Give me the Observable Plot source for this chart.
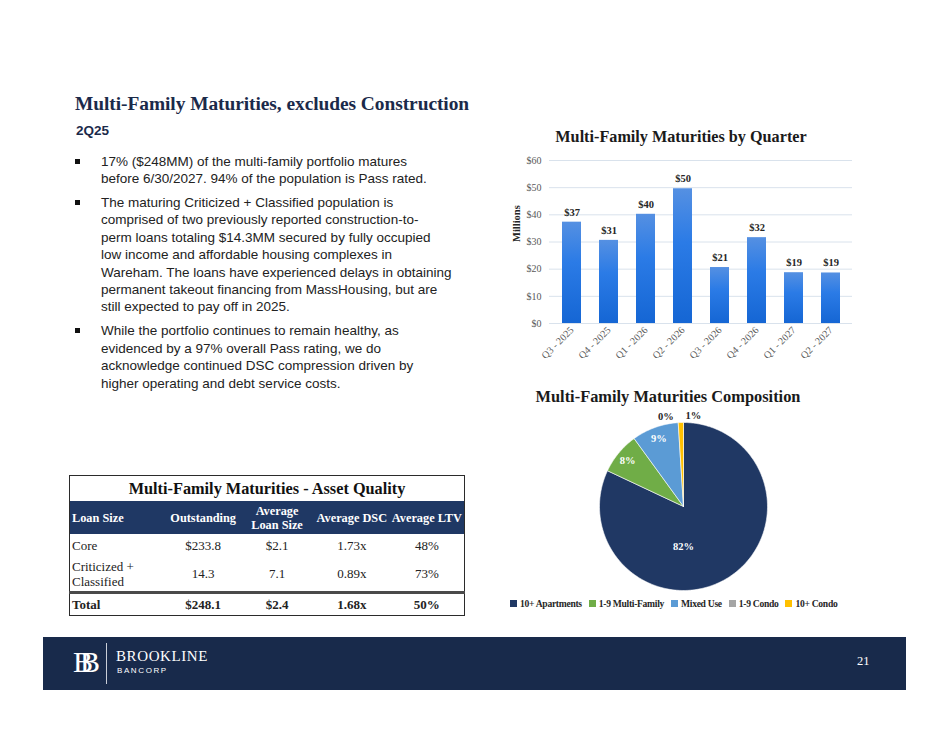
<!DOCTYPE html>
<html><head><meta charset="utf-8">
<script src="https://cdn.jsdelivr.net/npm/d3@7"></script>
<script src="https://cdn.jsdelivr.net/npm/@observablehq/plot@0.6"></script>
<style>
html,body{margin:0;padding:0;background:#fff;}
#page{position:relative;width:950px;height:734px;overflow:hidden;font-family:"Liberation Sans",Arial,sans-serif;}
.abs{position:absolute;}
.serif{font-family:"Liberation Serif","Times New Roman",serif;}
#title{left:75px;top:94px;font-size:19.4px;line-height:1;font-weight:bold;color:#1b2a4a;white-space:nowrap;letter-spacing:-0.05px;}
#sub{left:76px;top:124px;font-size:13.5px;line-height:1;font-weight:bold;color:#1b2a4a;}
#bullets{left:75px;top:152.5px;width:420px;font-size:13.5px;line-height:17.4px;color:#222;}
#bullets .b{position:relative;padding-left:26px;margin-bottom:6.6px;white-space:nowrap;}
#bullets .b::before{content:"";position:absolute;left:0px;top:6px;width:5px;height:5px;background:#111;}
.ctitle{font-weight:bold;color:#1a1a1a;line-height:1;white-space:nowrap;transform:translateX(-50%);}
#barTitle{left:681px;top:129px;font-size:16.2px;}
#pieTitle{left:668px;top:389px;font-size:16.4px;}
#barChart{left:490px;top:145px;}
#pieChart{left:583px;top:406px;}
#legend{left:510px;top:598px;display:flex;gap:7px;font-size:9.6px;letter-spacing:-0.3px;font-weight:bold;color:#262626;white-space:nowrap;line-height:12px;}
#legend .sw{display:inline-block;width:7px;height:7px;margin-right:3px;vertical-align:0px;}
#tbl{left:69px;top:475px;width:396px;border:1.5px solid #2b2b2b;border-collapse:collapse;font-size:13px;color:#222;box-sizing:border-box;}
#tbl td,#tbl th{padding:0;text-align:center;}
#tbl .ttl td{height:25px;font-size:16.3px;font-weight:bold;color:#111;}
#tbl .hdr th{height:33px;background:#1f3864;color:#fff;font-size:12.3px;font-weight:bold;line-height:14px;}
#tbl .first{text-align:left;padding-left:2px;}
#tbl .tot td{border-top:3px solid #4a4a4a;height:21px;font-weight:bold;}
#footer{left:43px;top:637px;width:863px;height:53px;background:#182a4b;}
</style></head>
<body>
<svg width="0" height="0" style="position:absolute">
  <defs>
    <linearGradient id="barGrad" x1="0" y1="0" x2="0" y2="1">
      <stop offset="0" stop-color="#5590e2"/>
      <stop offset="0.4" stop-color="#2b7be6"/>
      <stop offset="1" stop-color="#1566d4"/>
    </linearGradient>
  </defs>
</svg>
<div id="page">
  <div id="title" class="abs serif">Multi-Family Maturities, excludes Construction</div>
  <div id="sub" class="abs">2Q25</div>
  <div id="bullets" class="abs">
    <div class="b">17% ($248MM) of the multi-family portfolio matures<br>before 6/30/2027. 94% of the population is Pass rated.</div>
    <div class="b">The maturing Criticized + Classified population is<br>comprised of two previously reported construction-to-<br>perm loans totaling $14.3MM secured by fully occupied<br>low income and affordable housing complexes in<br>Wareham. The loans have experienced delays in obtaining<br>permanent takeout financing from MassHousing, but are<br>still expected to pay off in 2025.</div>
    <div class="b">While the portfolio continues to remain healthy, as<br>evidenced by a 97% overall Pass rating, we do<br>acknowledge continued DSC compression driven by<br>higher operating and debt service costs.</div>
  </div>

  <div id="barTitle" class="abs serif ctitle">Multi-Family Maturities by Quarter</div>
  <div id="barChart" class="abs"></div>
  <div id="pieTitle" class="abs serif ctitle">Multi-Family Maturities Composition</div>
  <div id="pieChart" class="abs"></div>
  <div id="legend" class="abs serif"></div>

  <table id="tbl" class="abs serif"></table>

  <div id="footer" class="abs">
    <div class="abs serif" style="left:30px;top:10px;font-size:30px;line-height:1;color:#fff;letter-spacing:-13px;">BB</div>
    <div class="abs" style="left:63px;top:6px;width:1px;height:41px;background:#c9ced8;"></div>
    <div class="abs serif" style="left:73px;top:12px;font-size:15px;line-height:1;color:#fff;letter-spacing:0.6px;">BROOKLINE</div>
    <div class="abs" style="left:74px;top:30px;font-size:8px;line-height:1;color:#fff;letter-spacing:1.6px;">BANCORP</div>
    <div class="abs serif" style="left:814px;top:18px;font-size:12.5px;line-height:1;color:#fff;">21</div>
  </div>
</div>
<script>
// ---- Bar chart data ----
const quarters = ["Q3 - 2025","Q4 - 2025","Q1 - 2026","Q2 - 2026","Q3 - 2026","Q4 - 2026","Q1 - 2027","Q2 - 2027"];
const maturities = [37.3, 30.6, 40.2, 49.6, 20.6, 31.6, 18.7, 18.6];
const yTicks = [0, 10, 20, 30, 40, 50, 60];

// ---- Pie data ----
const compCategories = ["10+ Apartments","1-9 Multi-Family","Mixed Use","1-9 Condo","10+ Condo"];
const compShares = [82, 8, 9, 0, 1];
const compColors = ["#203864","#70ad47","#5b9bd5","#a5a5a5","#ffc000"];

// ---- Table data ----
const tableHeaders = ["Loan Size","Outstanding","Average<br>Loan Size","Average DSC","Average LTV"];
const tableRowNames = ["Core","Criticized +<br>Classified","Total"];
const tableOutstanding = ["$233.8","14.3","$248.1"];
const tableAvgSize = ["$2.1","7.1","$2.4"];
const tableDSC = ["1.73x","0.89x","1.68x"];
const tableLTV = ["48%","73%","50%"];

// Bar chart
const bars = quarters.map((q, i) => ({q, v: maturities[i]}));
const barChart = Plot.plot({
  width: 370, height: 250,
  marginLeft: 59, marginRight: 8, marginTop: 15, marginBottom: 72,
  style: {fontFamily: "Liberation Serif, serif", fontSize: "10px", color: "#595959", background: "transparent"},
  x: {domain: quarters, paddingInner: 0.5, paddingOuter: 0.25, label: null},
  y: {domain: [0, 60], label: null},
  marks: [
    Plot.gridY(yTicks, {stroke: "#d9e2ec", strokeOpacity: 1, strokeWidth: 1}),
    Plot.barY(bars, {x: "q", y: "v", fill: "url(#barGrad)"}),
    Plot.text(bars, {x: "q", y: "v", text: d => "$" + Math.round(d.v), dy: -10, fontWeight: "bold", fontSize: 10.5, fill: "#262626"}),
    Plot.axisY(yTicks, {tickFormat: d => "$" + d, tickSize: 0, tickPadding: 8, label: null}),
    Plot.axisX({tickRotate: -45, tickSize: 0, tickPadding: 5, label: null}),
    Plot.text(["Millions"], {frameAnchor: "left", rotate: -90, dx: -33, fontWeight: "bold", fontSize: 10.5, fill: "#262626"})
  ]
});
document.getElementById("barChart").append(barChart);

// Pie chart
const arcs = d3.pie().sort(null).value(d => d)(compShares);
const piePts = [];
arcs.forEach((a, i) => {
  if (a.endAngle - a.startAngle <= 0) return;
  const cat = compCategories[i];
  piePts.push({cat, x: 0, y: 0});
  const n = Math.max(2, Math.ceil((a.endAngle - a.startAngle) / (Math.PI / 180)));
  for (let k = 0; k <= n; k++) {
    const t = a.startAngle + (a.endAngle - a.startAngle) * k / n;
    piePts.push({cat, x: Math.sin(t), y: Math.cos(t)});
  }
  piePts.push({cat, x: 0, y: 0});
});
// label placement rule (annotation layout)
const labelPlace = (a, i) => {
  const share = compShares[i] / 100;
  const mid = (a.startAngle + a.endAngle) / 2;
  if (share > 0.5) return {ang: Math.PI, r: 0.48};
  if (share < 0.02) return {ang: mid + (i === 3 ? -0.13 : 0.14), r: 1.09};
  return {ang: mid, r: 0.865};
};
const pieLabels = arcs.map((a, i) => {
  const p = labelPlace(a, i);
  const share = compShares[i] / 100;
  return {x: p.r * Math.sin(p.ang), y: p.r * Math.cos(p.ang), text: compShares[i] + "%", inside: share >= 0.02};
});
const ext = 100 / 84;
const pieChart = Plot.plot({
  width: 200, height: 200, margin: 0,
  style: {fontFamily: "Liberation Serif, serif", background: "transparent"},
  x: {domain: [-ext, ext], axis: null},
  y: {domain: [-ext, ext], axis: null},
  color: {domain: compCategories, range: compColors},
  marks: [
    Plot.line(piePts, {x: "x", y: "y", z: "cat", fill: "cat", stroke: "white", strokeWidth: 0.6, curve: "linear"}),
    Plot.text(pieLabels, {x: "x", y: "y", text: "text", fill: d => d.inside ? "#ffffff" : "#262626", fontWeight: "bold", fontSize: 10.5})
  ]
});
document.getElementById("pieChart").append(pieChart);

// Legend
const legend = document.getElementById("legend");
compCategories.forEach((c, i) => {
  const s = document.createElement("span");
  s.innerHTML = `<span class="sw" style="background:${compColors[i]}"></span>${c}`;
  legend.append(s);
});

// Table
const colW = [97, 74, 74, 76, 75];
let html = `<colgroup>${colW.map(w => `<col style="width:${w}px">`).join("")}</colgroup>`;
html += `<tr class="ttl"><td colspan="5">Multi-Family Maturities - Asset Quality</td></tr>`;
html += `<tr class="hdr">${tableHeaders.map((h, i) => `<th class="${i === 0 ? "first" : ""}">${h}</th>`).join("")}</tr>`;
tableRowNames.forEach((r, i) => {
  const cls = i === 2 ? "tot" : "";
  const h = i === 0 ? 23 : (i === 1 ? 34 : 21);
  html += `<tr class="${cls}"><td class="first" style="height:${h}px;line-height:15px">${r}</td><td>${tableOutstanding[i]}</td><td>${tableAvgSize[i]}</td><td>${tableDSC[i]}</td><td>${tableLTV[i]}</td></tr>`;
});
document.getElementById("tbl").innerHTML = html;
</script>
</body></html>
